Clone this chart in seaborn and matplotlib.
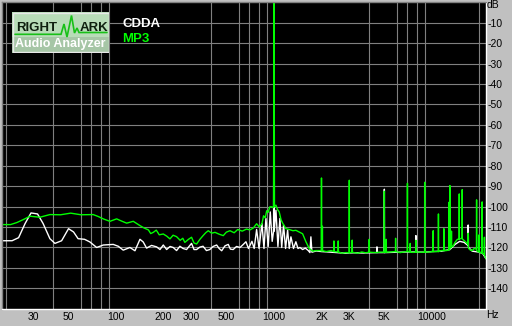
import matplotlib
matplotlib.use("Agg")
import matplotlib.pyplot as plt
from matplotlib.patches import Rectangle
from matplotlib.ticker import NullFormatter, FixedLocator, FixedFormatter
import seaborn as sns
import pandas as pd

# ---------------- data ----------------
cdda_freq = [19, 22, 24.2, 26.6, 29.0, 31.9, 34.6, 38.2, 41.1, 45.3, 50.1, 53.9, 57.6, 63.3, 68.4,
             75.5, 83.1, 96.1, 103.4, 111.2, 122.6, 131.9, 141.9, 148.8, 156.3, 168, 180.9, 190,
             199.4, 209.4, 220, 230.4, 242, 254, 266, 280, 290, 301, 312, 324, 340, 356, 374, 393,
             412, 434, 450, 467, 490, 514, 530, 552, 580, 610, 640, 665, 690, 726, 750, 777, 805,
             840, 865, 890, 920, 948, 975, 995, 1000, 1005, 1030, 1060, 1091, 1120, 1151, 1185,
             1221, 1250, 1281, 1330, 1377, 1420, 1461, 1520, 1580, 1650, 1690, 1714, 1740, 1850,
             2000, 2200, 2500, 2800, 3200, 3700, 4480, 4490, 4500, 4990, 5000, 5010, 5500, 6200,
             7000, 7900, 7920, 7950, 9000, 10000, 11500, 13000, 14000, 15000, 16000, 16900,
             16970, 17050, 18000, 20000, 21000, 22000]
cdda_db = [-116.7, -116.7, -115.2, -108.3, -103.1, -103.6, -108.3, -115.7, -118.0, -116.7, -110.8,
           -112.4, -115.7, -116.0, -117.3, -120.0, -118.8, -118.5, -119.4, -121.3, -120.0, -121.6,
           -116.0, -117.3, -120.3, -119.0, -119.7, -121.0, -118.8, -121.0, -119.5, -120.0, -121.5,
           -119.4, -120.5, -121.0, -119.5, -118.0, -121.0, -121.0, -119.8, -119.4, -121.5, -121.0,
           -119.5, -118.8, -120.5, -121.6, -119.2, -118.5, -120.8, -121.0, -119.5, -120.0, -118.5,
           -117.2, -120.5, -117.0, -120.5, -111.2, -120.5, -108.3, -120.5, -105.8, -119.5, -102.6,
           -117.0, -112.0, -14.0, -112.0, -101.8, -119.5, -105.8, -120.0, -109.0, -120.5, -111.5,
           -120.5, -114.8, -120.5, -117.2, -120.5, -120.0, -121.0, -120.3, -121.5, -122.5, -114.8,
           -122.3, -121.7, -122.0, -122.2, -122.5, -122.8, -122.6, -122.7, -122.5, -119.7, -122.5,
           -122.5, -91.5, -122.5, -122.4, -122.3, -122.2, -122.2, -114.2, -122.2, -122.3, -122.0,
           -121.8, -121.0, -118.5, -117.0, -117.5, -119.0, -109.0, -120.0, -121.8, -122.3, -123.0,
           -125.5]

mp3_freq = [19, 21.5, 23.6, 26, 28.6, 33.0, 38.2, 44.6, 51.7, 60.1, 71.8, 77, 83.1, 91.6, 101, 108,
            116.9, 128.7, 141.9, 151, 160.5, 166, 172.3, 180, 188, 199.4, 210, 219.7, 230, 241.9,
            255, 265, 273, 288, 301, 312, 324, 340, 356, 370, 384, 404, 424, 450, 478, 500, 527,
            560, 590, 630, 670, 705, 740, 777, 810, 840, 860, 881, 900, 920, 940, 960, 995, 1000,
            1003, 1008, 1030, 1055, 1080, 1110, 1140, 1191, 1250, 1320, 1377, 1450, 1519, 1594,
            1673, 1760, 1845, 1955, 1995,
            2000, 2005, 2022, 2027, 2032, 2150, 2300, 2390, 2398, 2406, 2545, 2553, 2561, 2700,
            2850, 2995, 3000, 3005, 3120, 3130, 3140, 3400, 3600, 3800, 4000, 4011, 4022, 4400,
            4700, 4990, 5000, 5010, 5125, 5138, 5150, 5500, 5880, 5892, 5905, 6300, 6600, 6990,
            7000, 7010, 7280, 7290, 7300, 7600, 7910, 7920, 7930, 8500, 8990, 9000, 9010, 9600,
            10180, 10190, 10200, 10500, 10990, 11000, 11010, 11500, 11900, 11910, 11920, 12400,
            12800, 12810, 12820, 12990, 13000, 13010, 13280, 13300, 13320, 13600, 14000, 14500,
            14880, 14900, 14920, 15540, 15560, 15580, 16200, 16950, 16970, 16990, 17300, 18000,
            18500, 19160, 19180, 19200, 19500, 19900, 19920, 19940, 20300, 20780, 20800, 20820,
            21100, 21450, 21500, 21550, 22000]
mp3_db = [-108.8, -108.8, -107.8, -106.3, -104.7, -105.2, -103.9, -104.0, -103.2, -104.0, -103.9,
          -104.8, -106.0, -107.2, -106.0, -107.0, -108.1, -107.2, -109.3, -110.5, -111.4, -113.2,
          -112.6, -111.5, -113.8, -113.4, -114.5, -115.8, -114.0, -114.7, -116.5, -115.5, -117.5,
          -116.0, -115.0, -117.8, -118.3, -116.0, -114.2, -112.8, -111.8, -113.0, -112.6, -113.5,
          -114.2, -112.5, -111.8, -112.8, -111.2, -112.0, -111.0, -111.4, -110.5, -108.4, -110.0,
          -108.3, -104.5, -105.5, -102.0, -102.8, -100.2, -100.0, -100.5, -0.4, -14.0, -100.0,
          -99.3, -101.5, -102.6, -106.5, -108.3, -110.8,
          -111.2, -111.8, -111.6, -112.5, -113.3, -117.2, -120.5, -121.8, -121.5, -121.5, -121.6,
          -86.0, -121.6, -121.6, -109.6, -121.6, -122.0, -121.5, -122.0, -116.8, -122.0, -122.2,
          -116.8, -122.2, -122.8, -122.5, -122.6, -87.1, -122.6, -122.4, -116.4, -122.4, -122.8,
          -122.2, -122.6, -122.3, -116.0, -122.3, -122.5, -122.3, -122.3, -92.5, -122.3, -122.3,
          -116.0, -122.3, -122.2, -122.0, -115.5, -122.0, -122.5, -122.2, -122.0, -88.6, -122.0,
          -122.2, -118.0, -122.2, -122.4, -122.2, -116.5, -122.2, -122.3, -122.3, -88.1, -122.3,
          -122.2, -122.0, -111.8, -122.0, -122.0, -122.0, -103.6, -122.0, -121.5, -121.5, -110.8,
          -121.5, -121.5, -121.2, -97.9, -121.0, -121.0, -89.7, -120.0, -120.0, -112.0, -119.5,
          -119.5, -117.5, -116.0, -116.0, -93.8, -115.8, -115.5, -91.7, -115.8, -117.0, -118.5,
          -113.0, -120.0, -121.0, -121.5, -120.5, -120.8, -96.7, -121.5, -122.0, -122.0, -113.8,
          -122.3, -122.5, -122.6, -97.7, -122.8, -123.0, -123.5, -115.0, -124.0, -125.5]

series_names = ["CDDA", "MP3"]
series_colors = ["#ffffff", "#00ff00"]

x_tick_values = [30, 50, 100, 200, 300, 500, 1000, 2000, 3000, 5000, 10000]
x_tick_labels = ["30", "50", "100", "200", "300", "500", "1000", "2K", "3K", "5K", "10000"]
x_grid_values = [20, 30, 40, 50, 60, 70, 80, 90, 100, 200, 300, 400, 500, 600, 700, 800, 900,
                 1000, 2000, 3000, 4000, 5000, 6000, 7000, 8000, 9000, 10000, 20000]
y_tick_values = [-10, -20, -30, -40, -50, -60, -70, -80, -90, -100, -110, -120, -130, -140]
y_tick_labels = ["-10", "-20", "-30", "-40", "-50", "-60", "-70", "-80", "-90", "-100",
                 "-110", "-120", "-130", "-140"]

# ---------------- figure ----------------
sns.set_style("dark")
plt.rcParams["font.family"] = ["Liberation Sans", "DejaVu Sans"]

W, H = 512, 326
BG = "#c0c0c0"
fig = plt.figure(figsize=(W / 100, H / 100), dpi=100, facecolor=BG)
ax = fig.add_axes([2 / W, 1 - 308.8 / H, 484 / W, 306.6 / H])
ax.set_facecolor("black")

df = pd.DataFrame({
    "freq": cdda_freq + mp3_freq,
    "level": cdda_db + mp3_db,
    "series": [series_names[0]] * len(cdda_freq) + [series_names[1]] * len(mp3_freq),
})
sns.lineplot(data=df, x="freq", y="level", hue="series", hue_order=series_names,
             palette=dict(zip(series_names, series_colors)), estimator=None,
             linewidth=1.0, legend=False, ax=ax)

ax.set_xscale("log")
ax.set_xlim(19, 22000)
ax.set_ylim(-150, 0)
ax.xaxis.set_major_locator(FixedLocator(x_tick_values))
ax.xaxis.set_major_formatter(FixedFormatter(x_tick_labels))
ax.xaxis.set_minor_locator(FixedLocator(x_grid_values))
ax.xaxis.set_minor_formatter(NullFormatter())
ax.set_yticks(y_tick_values)
ax.set_yticklabels(y_tick_labels)
ax.yaxis.tick_right()
ax.set_xlabel("")
ax.set_ylabel("")

ax.set_axisbelow(True)
ax.grid(False)
ax.grid(True, which="minor", axis="x", color="#808080", linewidth=0.8)
ax.grid(True, which="major", axis="y", color="#808080", linewidth=0.8)
ax.tick_params(which="both", length=0, labelsize=7.5, labelcolor="black")
ax.tick_params(axis="x", pad=2.2)
ax.tick_params(axis="y", pad=0.8)

for side in ("left", "top"):
    ax.spines[side].set_color("#808080")
    ax.spines[side].set_linewidth(1)
for side in ("right", "bottom"):
    ax.spines[side].set_color("white")
    ax.spines[side].set_linewidth(1)


def px(x, y):
    return x / W, 1 - y / H


fig.text(*px(487, 5), "dB", fontsize=7.5, ha="left", va="center", color="black")
fig.text(*px(486, 315.5), "Hz", fontsize=7.5, ha="left", va="center", color="black")

# legend texts
fig.text(*px(122.5, 27.3), series_names[0], fontsize=9.5, fontweight="bold",
         color=series_colors[0], ha="left", va="baseline")
fig.text(*px(122.5, 42.3), series_names[1], fontsize=9.5, fontweight="bold",
         color=series_colors[1], ha="left", va="baseline")

# logo
lax = fig.add_axes([12 / W, 1 - 52.5 / H, 97 / W, 40.5 / H])
lax.set_xlim(0, 97)
lax.set_ylim(40.5, 0)
lax.axis("off")
lax.add_patch(Rectangle((0, 0), 97, 25, facecolor="#b8dcb8", edgecolor="none"))
lax.add_patch(Rectangle((0, 25), 97, 15.5, facecolor="#a6c6a6", edgecolor="none"))
lax.add_patch(Rectangle((0.5, 0.5), 96, 39.5, facecolor="none", edgecolor="#e8e8e8", linewidth=1))
lax.plot([3, 49, 52, 55, 59.5, 62.5, 65, 67, 95], [22.3, 22.3, 12, 25, 3.5, 21, 16, 20.5, 20.5],
         color="#18c018", linewidth=1.2, solid_joinstyle="miter")
lax.text(3.7, 18.7, "RIGHT", fontsize=9.5, fontweight="bold", color="#102010", va="baseline")
lax.text(68, 18.7, "ARK", fontsize=9.5, fontweight="bold", color="#102010", va="baseline")
lax.text(3, 34.7, "Audio Analyzer", fontsize=9.0, fontweight="bold", color="white", va="baseline")

fig.savefig("out.png", dpi=100, facecolor=BG)
